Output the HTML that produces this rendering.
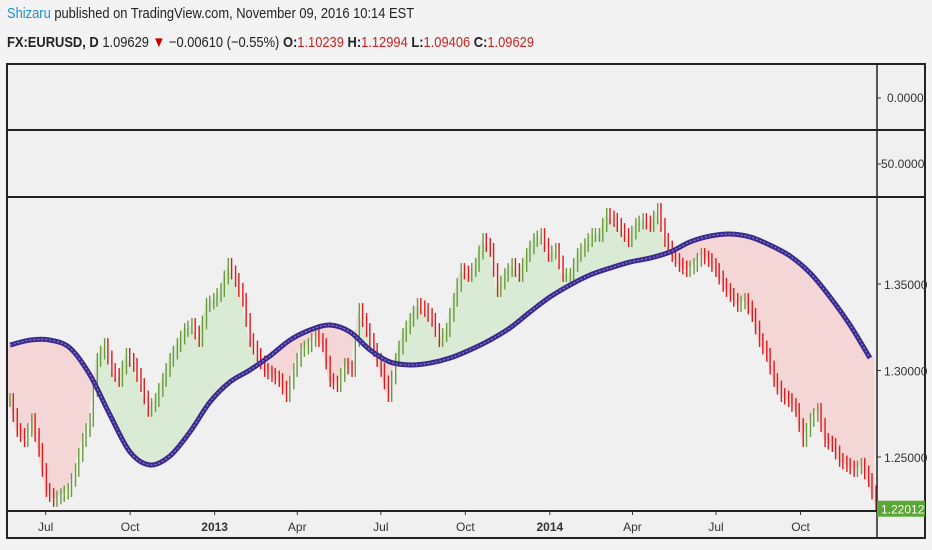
<!DOCTYPE html>
<html><head><meta charset="utf-8"><style>
body{margin:0;background:#f3f3f3;font-family:"Liberation Sans",sans-serif;}
#wrap{position:relative;width:932px;height:550px;overflow:hidden;background:#f3f3f3}
.hdr{position:absolute;left:7px;font-size:15px;color:#222;white-space:nowrap;transform:scaleX(0.86);transform-origin:left}
</style></head><body>
<div id="wrap">
<div class="hdr" style="top:5px"><span style="color:#1e90c8">Shizaru</span> published on TradingView.com, November 09, 2016 10:14 EST</div>
<div class="hdr" style="top:34px"><b>FX:EURUSD, D</b> 1.09629 <span style="color:#c00">▼</span> −0.00610 (−0.55%) <b>O:</b><span style="color:#c22">1.10239</span> <b>H:</b><span style="color:#c22">1.12994</span> <b>L:</b><span style="color:#c22">1.09406</span> <b>C:</b><span style="color:#c22">1.09629</span></div>
<svg id="chart" width="932" height="550" style="position:absolute;left:0;top:0"></svg>
</div>
<script>
const closes=[1.2829,1.2656,1.2598,1.2714,1.2541,1.2309,1.2252,1.2280,1.2309,1.2425,1.2598,1.2714,1.3061,1.3147,1.3003,1.2945,1.3090,1.3032,1.2916,1.2772,1.2829,1.2945,1.3061,1.3147,1.3234,1.3263,1.3176,1.3379,1.3408,1.3465,1.3610,1.3523,1.3408,1.3176,1.3090,1.3003,1.2974,1.2945,1.2858,1.3003,1.3119,1.3147,1.3205,1.3147,1.2945,1.2916,1.3032,1.3003,1.3350,1.3234,1.3119,1.3003,1.2858,1.3061,1.3205,1.3292,1.3379,1.3350,1.3292,1.3176,1.3234,1.3408,1.3581,1.3552,1.3610,1.3754,1.3697,1.3465,1.3552,1.3610,1.3552,1.3668,1.3754,1.3783,1.3668,1.3697,1.3552,1.3552,1.3668,1.3725,1.3783,1.3783,1.3899,1.3870,1.3812,1.3754,1.3841,1.3870,1.3841,1.3928,1.3754,1.3668,1.3610,1.3581,1.3610,1.3668,1.3639,1.3581,1.3494,1.3437,1.3379,1.3408,1.3321,1.3176,1.3090,1.2945,1.2858,1.2829,1.2772,1.2598,1.2714,1.2772,1.2598,1.2569,1.2483,1.2454,1.2425,1.2454,1.2367,1.2223];
const maVals=[1.3147,1.3176,1.3176,1.3130,1.2974,1.2743,1.2529,1.2454,1.2506,1.2645,1.2818,1.2934,1.3003,1.3084,1.3176,1.3234,1.3263,1.3223,1.3119,1.3049,1.3032,1.3043,1.3072,1.3119,1.3176,1.3246,1.3338,1.3425,1.3494,1.3552,1.3592,1.3627,1.3650,1.3685,1.3743,1.3777,1.3789,1.3772,1.3725,1.3662,1.3564,1.3425,1.3263,1.3072];
const priceTicks=[1.25,1.30,1.35];
const timeTicks=[["Jul","2012-07-01"],["Oct","2012-10-01"],["2013","2013-01-01"],["Apr","2013-04-01"],["Jul","2013-07-01"],["Oct","2013-10-01"],["2014","2014-01-01"],["Apr","2014-04-01"],["Jul","2014-07-01"],["Oct","2014-10-01"]];
const lastPrice=1.22012;
const startDate="2012-05-21", endDate="2014-12-20";

const svg=document.getElementById('chart');const NS="http://www.w3.org/2000/svg";
function mk(t,a,p){const e=document.createElementNS(NS,t);for(const k in a)e.setAttribute(k,a[k]);(p||svg).appendChild(e);return e;}
const L=7,R=877,T=197,B=511;
const y=v=>284+(1.35-v)*1730;
const d0=Date.parse(startDate),d1=Date.parse(endDate);
const xd=s=>8+(Date.parse(s)-d0)/(d1-d0)*866;
const xi=i=>8+i*866/(closes.length-1);
const xm=i=>10+i*20;
function maAt(x){let f=(x-10)/20;f=Math.max(0,Math.min(maVals.length-1.001,f));const i=Math.floor(f),t=f-i;return maVals[i]*(1-t)+maVals[i+1]*t;}

let r=mk('rect',{x:7,y:64,width:918,height:474,fill:'#f0f0f0',stroke:'#222','stroke-width':2});

const defs=mk('defs',{});const cp=mk('clipPath',{id:'cp'},defs);mk('rect',{x:L,y:T,width:R-L,height:B-T},cp);
const g=mk('g',{'clip-path':'url(#cp)'});
for(let i=0;i<closes.length-1;i++){
 const xa=xi(i),xb=xi(i+1),ma=maAt(xa),mb=maAt(xb);
 const up=(closes[i]+closes[i+1])/2>(ma+mb)/2;
 const p=mk('polygon',{points:`${xa},${y(closes[i])} ${xb+0.5},${y(closes[i+1])} ${xb+0.5},${y(mb)} ${xa},${y(ma)}`,fill:up?'#d9ead5':'#f4d6d6'},g);
 
}
for(let i=0;i<closes.length;i++){
 const o=i?closes[i-1]:closes[0],c=closes[i];
 const mid=(o+c)/2;const x1=xi(i)-2,x2=xi(i)+2;
 [[x1,o,mid],[x2,mid,c]].forEach(([x,a,b])=>{
  const col=b>=a?'#6a9a3a':'#e0191d';
  const ln=mk('line',{x1:x,x2:x,y1:y(Math.max(a,b)+0.004),y2:y(Math.min(a,b)-0.004),stroke:col,'stroke-width':1.4},g);
  
 });
}
// smooth MA (Catmull-Rom)
const P=maVals.map((v,i)=>[xm(i),y(v)]);
let d='M'+P[0][0]+','+P[0][1];
for(let i=0;i<P.length-1;i++){const p0=P[Math.max(0,i-1)],p1=P[i],p2=P[i+1],p3=P[Math.min(P.length-1,i+2)];
 d+=`C${p1[0]+(p2[0]-p0[0])/6},${p1[1]+(p2[1]-p0[1])/6} ${p2[0]-(p3[0]-p1[0])/6},${p2[1]-(p3[1]-p1[1])/6} ${p2[0]},${p2[1]}`;}
let m=mk('path',{d,fill:'none',stroke:'#3a2a8c','stroke-width':5},g);

mk('path',{d,fill:'none',stroke:'#8a7fd0','stroke-width':1.2,'stroke-dasharray':'2 2'},g);
[130,197,511].forEach(yy=>{const l=mk('line',{x1:7,x2:925,y1:yy,y2:yy,stroke:'#222','stroke-width':2});});
let ax=mk('line',{x1:R,x2:R,y1:64,y2:538,stroke:'#222','stroke-width':1.5});
function lbl(t,x,yy,name,anchor,w){const e=mk('text',{x,y:yy,'font-size':12,fill:'#333','text-anchor':anchor||'start','font-family':'Liberation Sans,sans-serif','font-weight':w||'normal'});e.textContent=t;return e;}
lbl('0.0000',887,102,'pane1-tick');mk('line',{x1:R,x2:R+4,y1:98,y2:98,stroke:'#333'});
lbl('50.0000',881,168,'pane2-tick');mk('line',{x1:R,x2:R+4,y1:164,y2:164,stroke:'#333'});
priceTicks.forEach(v=>{mk('line',{x1:R,x2:R+4,y1:y(v),y2:y(v),stroke:'#333'});lbl(v.toFixed(5),884,y(v)+5,'price-tick-label');});
timeTicks.forEach(([t,dd])=>{const x=xd(dd);mk('line',{x1:x,x2:x,y1:B,y2:B+4,stroke:'#333'});lbl(t,x,531,'time-tick-label','middle',/^\d/.test(t)?'bold':'normal');});
let lb=mk('rect',{x:R,y:y(lastPrice)-8,width:48,height:16,fill:'#5aa833'});
const lt=lbl(lastPrice.toFixed(5),881,y(lastPrice)+5,'last-price-label');lt.setAttribute('fill','#fff');
</script>
</body></html>
